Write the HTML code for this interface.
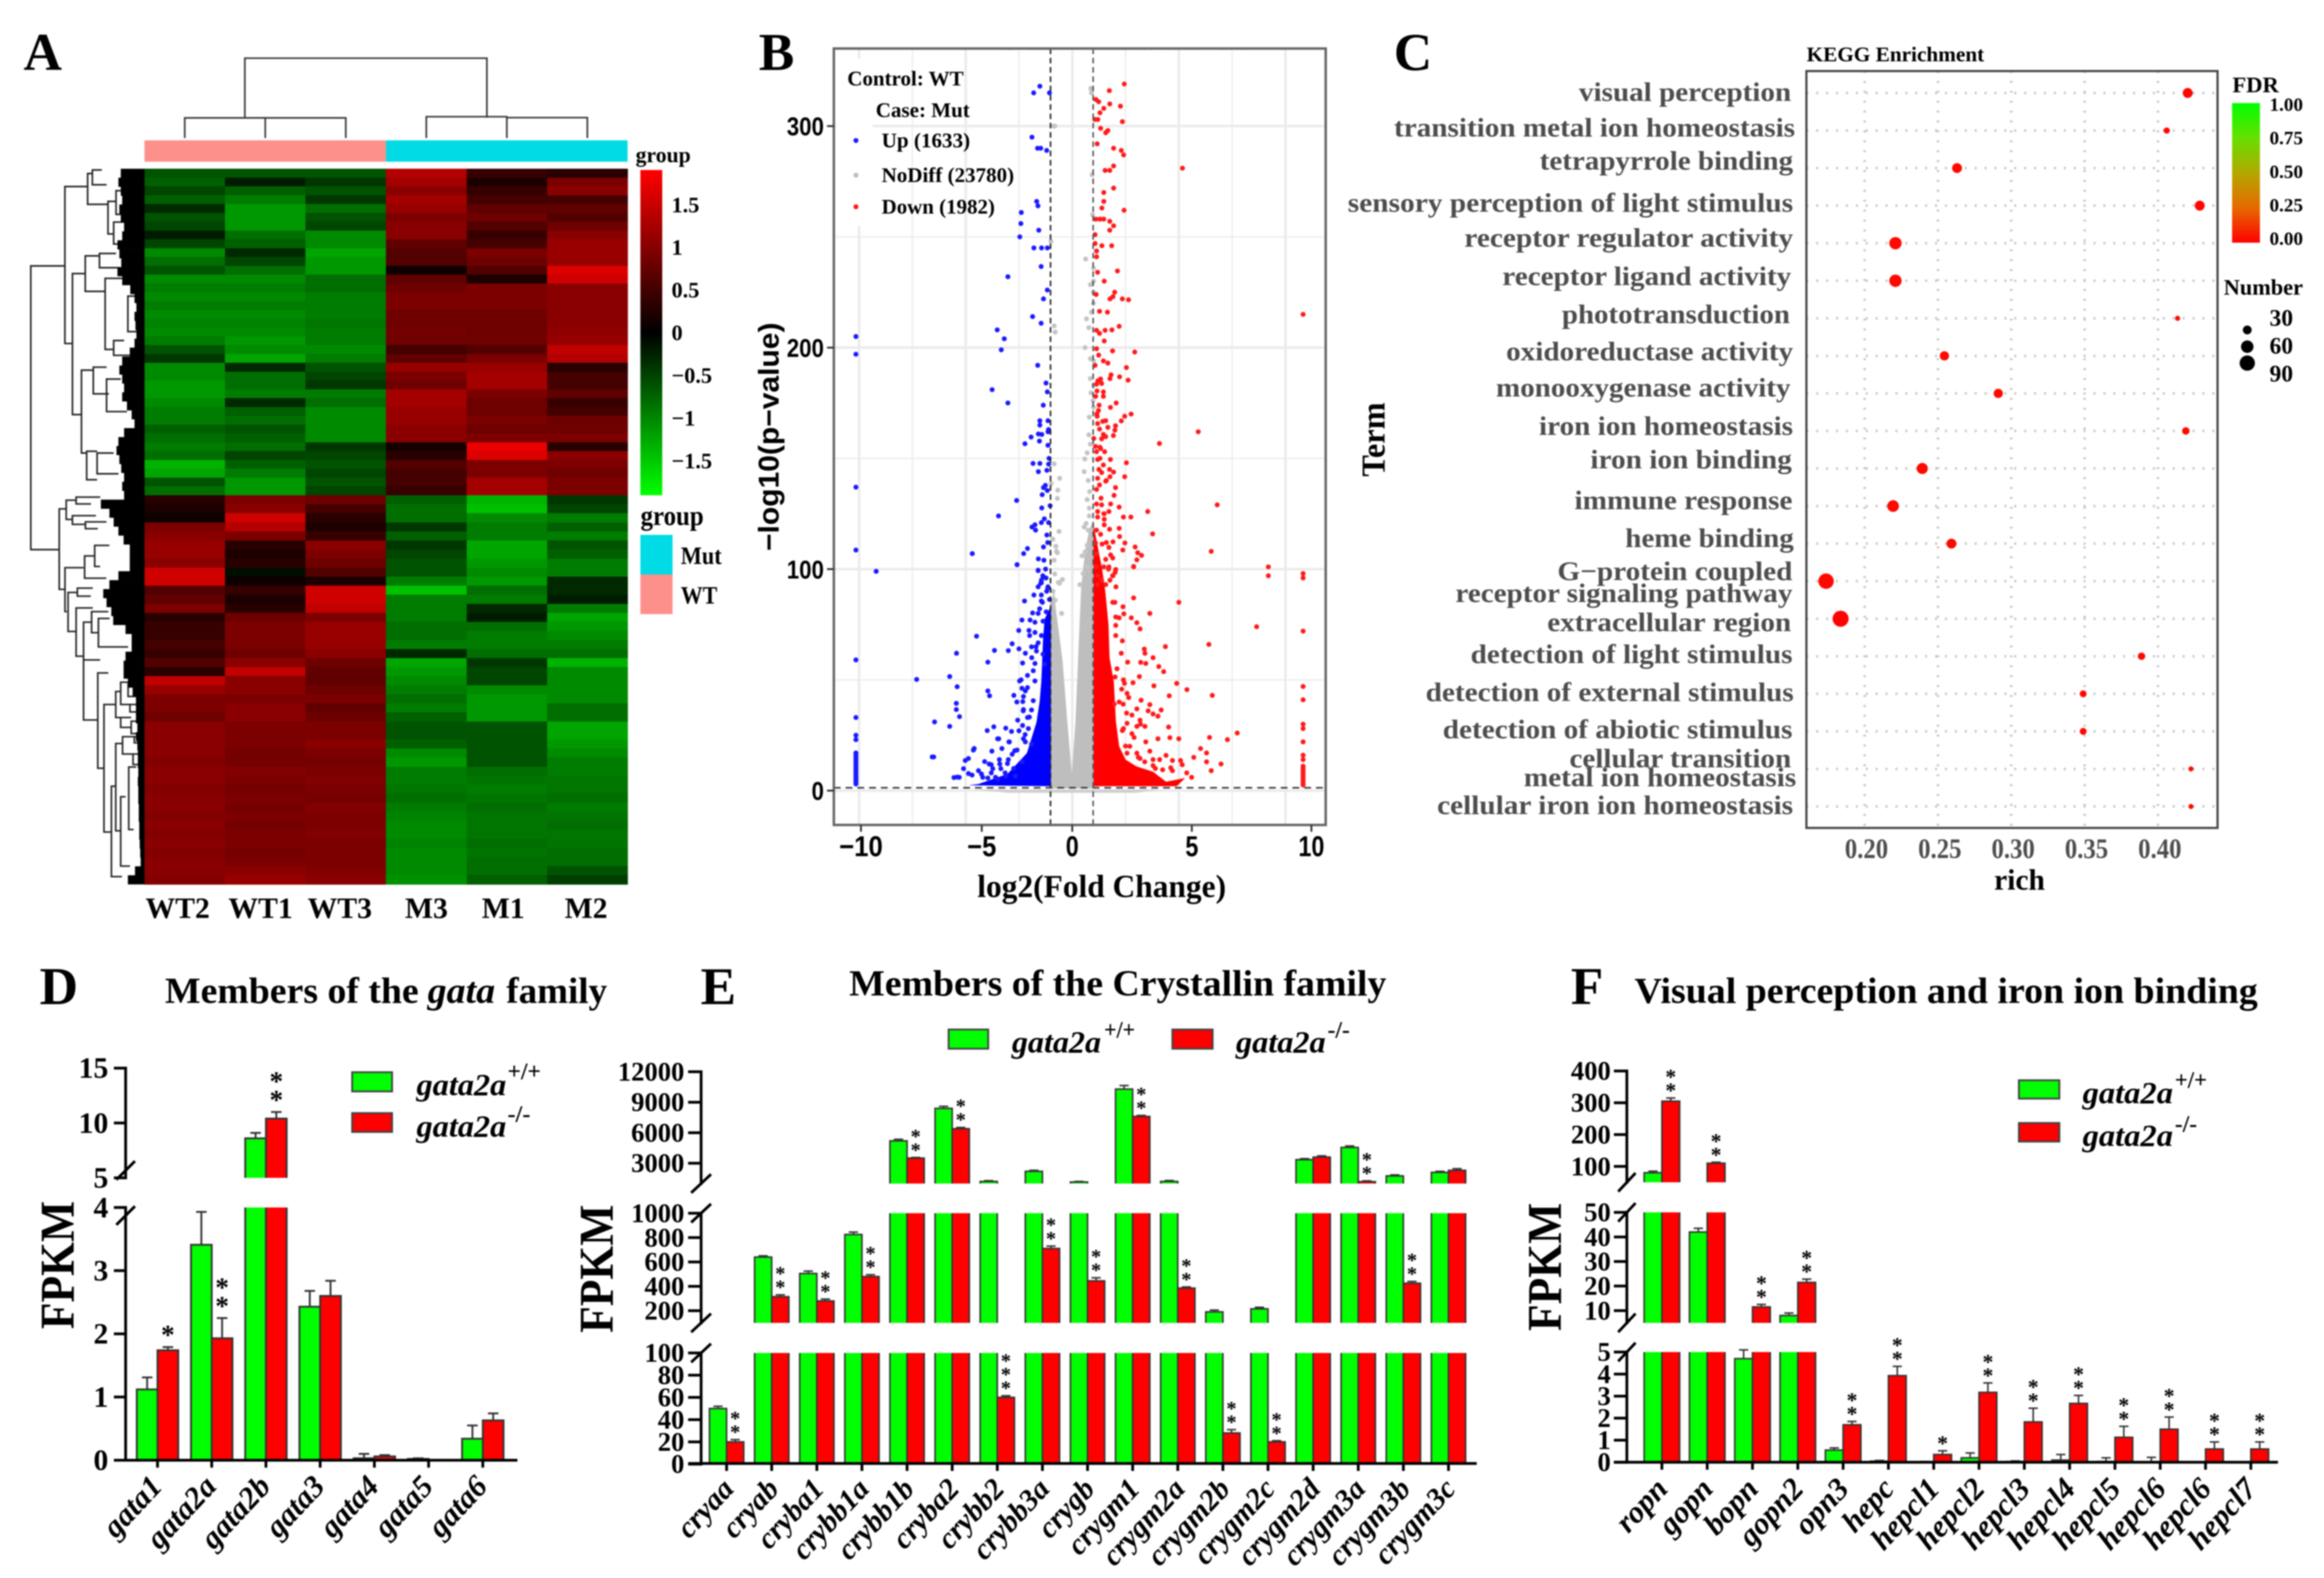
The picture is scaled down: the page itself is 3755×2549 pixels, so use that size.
<!DOCTYPE html>
<html lang="en">
<head>
<meta charset="utf-8">
<title>Transcriptome analysis of gata2a mutants</title>
<style>
html,body{margin:0;padding:0;background:#fff;}
#figure{display:block;filter:blur(1.1px);}
text{font-family:"Liberation Serif",serif;font-weight:bold;fill:#000;}
.sans{font-family:"Liberation Sans",sans-serif;}
.gray{fill:#4d4d4d;}
.it{font-style:italic;}
</style>
</head>
<body>
<svg id="figure" xmlns="http://www.w3.org/2000/svg" width="3755" height="2549" viewBox="0 0 3755 2549">
<rect x="0" y="0" width="3755" height="2549" fill="#fff"/>

<text x="38" y="113" font-size="86">A</text>
<text x="1226" y="113" font-size="86">B</text>
<text x="2252" y="113" font-size="86">C</text>
<text x="64" y="1622" font-size="86">D</text>
<text x="1132" y="1622" font-size="86">E</text>
<text x="2538" y="1622" font-size="86">F</text>

<g id="panelA">
  <rect x="233.4" y="226.7" width="390.3" height="34.5" fill="#fd908a"/>
  <rect x="623.7" y="226.7" width="390.3" height="34.5" fill="#00dbe5"/>
  <text x="1027" y="262" font-size="35" textLength="89" lengthAdjust="spacingAndGlyphs" fill="#333">group</text>
  <text x="1035" y="848" font-size="44" textLength="102" lengthAdjust="spacingAndGlyphs">group</text>
  <rect x="1034.7" y="864" width="52" height="64" fill="#00dbe5"/>
  <rect x="1034.7" y="928" width="52" height="64" fill="#fd908a"/>
  <text x="1100" y="911" font-size="40" textLength="66" lengthAdjust="spacingAndGlyphs" fill="#222">Mut</text>
  <text x="1100" y="975" font-size="40" textLength="59" lengthAdjust="spacingAndGlyphs" fill="#222">WT</text>
</g>

<g id="panelB">
  <text x="1579" y="1449" font-size="52" textLength="402" lengthAdjust="spacingAndGlyphs">log2(Fold Change)</text>
  <text class="sans" transform="translate(1258,890) rotate(-90)" font-size="46" textLength="369" lengthAdjust="spacingAndGlyphs">−log10(p−value)</text>
</g>

<g id="panelC">
  <text x="2919" y="99" font-size="34" textLength="287" lengthAdjust="spacingAndGlyphs" fill="#222">KEGG Enrichment</text>
  <text class="gray" x="2551.2" y="163" font-size="43" textLength="342.9" lengthAdjust="spacingAndGlyphs">visual perception</text>
  <text class="gray" x="2252.4" y="220.6" font-size="43" textLength="648" lengthAdjust="spacingAndGlyphs">transition metal ion homeostasis</text>
  <text class="gray" x="2487.8" y="274" font-size="43" textLength="409.4" lengthAdjust="spacingAndGlyphs">tetrapyrrole binding</text>
  <text class="gray" x="2177.6" y="342" font-size="43" textLength="719.6" lengthAdjust="spacingAndGlyphs">sensory perception of light stimulus</text>
  <text class="gray" x="2366" y="398.5" font-size="43" textLength="531.2" lengthAdjust="spacingAndGlyphs">receptor regulator activity</text>
  <text class="gray" x="2427.4" y="460.7" font-size="43" textLength="466.7" lengthAdjust="spacingAndGlyphs">receptor ligand activity</text>
  <text class="gray" x="2523.6" y="522" font-size="43" textLength="368.5" lengthAdjust="spacingAndGlyphs">phototransduction</text>
  <text class="gray" x="2433.5" y="582" font-size="43" textLength="463.7" lengthAdjust="spacingAndGlyphs">oxidoreductase activity</text>
  <text class="gray" x="2417.1" y="640.6" font-size="43" textLength="475.9" lengthAdjust="spacingAndGlyphs">monooxygenase activity</text>
  <text class="gray" x="2486.7" y="702.7" font-size="43" textLength="410.4" lengthAdjust="spacingAndGlyphs">iron ion homeostasis</text>
  <text class="gray" x="2569.7" y="756.3" font-size="43" textLength="325.5" lengthAdjust="spacingAndGlyphs">iron ion binding</text>
  <text class="gray" x="2544" y="822.3" font-size="43" textLength="352.1" lengthAdjust="spacingAndGlyphs">immune response</text>
  <text class="gray" x="2626" y="883.6" font-size="43" textLength="272.3" lengthAdjust="spacingAndGlyphs">heme binding</text>
  <text class="gray" x="2516.4" y="937" font-size="43" textLength="379.7" lengthAdjust="spacingAndGlyphs">G−protein coupled</text>
  <text class="gray" x="2351.6" y="972.5" font-size="43" textLength="544.5" lengthAdjust="spacingAndGlyphs">receptor signaling pathway</text>
  <text class="gray" x="2500" y="1019.4" font-size="43" textLength="394" lengthAdjust="spacingAndGlyphs">extracellular region</text>
  <text class="gray" x="2376.2" y="1071" font-size="43" textLength="520" lengthAdjust="spacingAndGlyphs">detection of light stimulus</text>
  <text class="gray" x="2303.5" y="1132.3" font-size="43" textLength="594.7" lengthAdjust="spacingAndGlyphs">detection of external stimulus</text>
  <text class="gray" x="2331.2" y="1192.6" font-size="43" textLength="565" lengthAdjust="spacingAndGlyphs">detection of abiotic stimulus</text>
  <text class="gray" x="2535.9" y="1239.4" font-size="43" textLength="358.2" lengthAdjust="spacingAndGlyphs">cellular transition</text>
  <text class="gray" x="2462.2" y="1270" font-size="43" textLength="440" lengthAdjust="spacingAndGlyphs">metal ion homeostasis</text>
  <text class="gray" x="2322" y="1315" font-size="43" textLength="575.2" lengthAdjust="spacingAndGlyphs">cellular iron ion homeostasis</text>
  <text transform="translate(2237,770) rotate(-90)" font-size="54" textLength="120" lengthAdjust="spacingAndGlyphs">Term</text>
  <text x="3222" y="1437" font-size="48" textLength="82" lengthAdjust="spacingAndGlyphs">rich</text>
  <text x="3607" y="149" font-size="36" textLength="75" lengthAdjust="spacingAndGlyphs" fill="#222">FDR</text>
  <text x="3593" y="476" font-size="36" textLength="128" lengthAdjust="spacingAndGlyphs" fill="#222">Number</text>
</g>

<g id="panelD">
  <text x="266.5" y="1620" font-size="59" textLength="410" lengthAdjust="spacingAndGlyphs">Members of the</text>
  <text class="it" x="691" y="1620" font-size="59" textLength="109" lengthAdjust="spacingAndGlyphs">gata</text>
  <text x="818" y="1620" font-size="59" textLength="163" lengthAdjust="spacingAndGlyphs">family</text>
  <text transform="translate(119,2147) rotate(-90)" font-size="78" textLength="207" lengthAdjust="spacingAndGlyphs">FPKM</text>
  <rect x="569" y="1732" width="64.5" height="31" fill="#00ff00" stroke="#444" stroke-width="3"/>
  <rect x="569" y="1798" width="64.5" height="30.5" fill="#ff0000" stroke="#444" stroke-width="3"/>
  <text class="it" x="673" y="1769" font-size="50" textLength="145" lengthAdjust="spacingAndGlyphs">gata2a</text>
  <text x="820" y="1743" font-size="38" textLength="54" lengthAdjust="spacingAndGlyphs">+/+</text>
  <text class="it" x="673" y="1836" font-size="50" textLength="145" lengthAdjust="spacingAndGlyphs">gata2a</text>
  <text x="820" y="1812" font-size="38" textLength="37" lengthAdjust="spacingAndGlyphs">-/-</text>
</g>

<g id="panelE">
  <text x="1372" y="1608" font-size="59" textLength="868" lengthAdjust="spacingAndGlyphs">Members of the Crystallin family</text>
  <text transform="translate(990,2153) rotate(-90)" font-size="78" textLength="207" lengthAdjust="spacingAndGlyphs">FPKM</text>
  <rect x="1532.7" y="1663" width="64" height="31" fill="#00ff00" stroke="#444" stroke-width="3"/>
  <rect x="1894.3" y="1663" width="65" height="31" fill="#ff0000" stroke="#444" stroke-width="3"/>
  <text class="it" x="1635" y="1700" font-size="50" textLength="144" lengthAdjust="spacingAndGlyphs">gata2a</text>
  <text x="1784" y="1676" font-size="38" textLength="50" lengthAdjust="spacingAndGlyphs">+/+</text>
  <text class="it" x="1997" y="1700" font-size="50" textLength="145" lengthAdjust="spacingAndGlyphs">gata2a</text>
  <text x="2145" y="1676" font-size="38" textLength="36" lengthAdjust="spacingAndGlyphs">-/-</text>
</g>

<g id="panelF">
  <text x="2641" y="1620" font-size="59" textLength="1007" lengthAdjust="spacingAndGlyphs">Visual perception and iron ion binding</text>
  <text transform="translate(2522,2150) rotate(-90)" font-size="78" textLength="207" lengthAdjust="spacingAndGlyphs">FPKM</text>
  <rect x="3262" y="1745" width="65.4" height="29.6" fill="#00ff00" stroke="#444" stroke-width="3"/>
  <rect x="3262" y="1814" width="65.4" height="30" fill="#ff0000" stroke="#444" stroke-width="3"/>
  <text class="it" x="3365" y="1782" font-size="50" textLength="146" lengthAdjust="spacingAndGlyphs">gata2a</text>
  <text x="3514" y="1757" font-size="38" textLength="52" lengthAdjust="spacingAndGlyphs">+/+</text>
  <text class="it" x="3365" y="1851" font-size="50" textLength="146" lengthAdjust="spacingAndGlyphs">gata2a</text>
  <text x="3514" y="1828" font-size="38" textLength="36" lengthAdjust="spacingAndGlyphs">-/-</text>
</g>
</svg>

<script>
/* ---------- PANEL A DATA ---------- */
const heatSamples = ['WT2','WT1','WT3','M3','M1','M2'];
const heatUpperRows = [
[-.6,-.6,-.6,1.3,.4,.3],[-.7,-.2,-.4,1.2,.2,.9],[-.5,-.7,-.6,1.0,.4,1.0],[-.7,-.9,-.4,1.2,.5,.5],
[-.3,-1.1,-.8,1.1,.7,.7],[-.6,-1.1,-.6,.9,.8,.6],[-.5,-1.1,-.5,1.0,.6,.8],[-.2,-.8,-1.0,1.0,.4,1.0],
[-.5,-.7,-1.0,.7,.5,1.1],[-1.0,-.3,-1.2,.6,.9,1.1],[-.8,-.5,-1.1,.6,.8,1.1],[-.6,-.8,-1.1,.1,.6,1.6],
[-1.0,-1.0,-.8,.7,.2,1.5],[-.9,-.9,-.8,.8,.9,1.0],[-1.0,-1.0,-.9,.9,.9,1.0],[-.9,-.9,-.9,.9,.9,1.0],
[-1.0,-1.0,-.9,.8,.8,1.0],[-.95,-.95,-.85,.8,.8,1.0],[-1.0,-1.0,-.9,.85,.8,1.05],[-.9,-1.1,-.9,.8,.8,1.1],
[-.6,-1.0,-1.0,.5,.6,1.4],[-.4,-1.2,-.9,.7,.9,1.3],[-1.0,-.3,-.6,1.1,1.1,.3],[-1.0,-.8,-.5,.9,1.2,.5],
[-1.1,-.8,-.4,.8,1.2,.5],[-1.1,-.9,-.9,1.2,.9,.7],[-1.0,-.3,-.8,1.2,.8,.4],[-.9,-.7,-1.0,1.1,.8,.5],
[-.9,-.8,-1.0,1.1,.9,.8],[-.7,-.6,-1.0,1.0,.8,.8],[-.8,-.7,-1.0,1.0,.9,.9],[-.9,-.8,-.4,.15,1.7,.3],
[-.8,-.5,-.5,.3,1.6,1.0],[-1.3,-.7,-.6,.6,.9,.9],[-1.2,-.9,-.5,.5,.9,.8],[-.6,-1.1,-.6,.5,1.2,.9],[-.8,-1.1,-.5,.4,1.2,.9]
];
const heatLowerRows = [
[.3,.9,.8,-.7,-1.3,-.4],[.2,1.0,.5,-.8,-1.4,-.5],[.1,1.5,.3,-.8,-1.0,-.9],[.9,1.3,.2,-.4,-.9,-.7],
[1.0,.9,.4,-.7,-.9,-.9],[1.1,.3,1.0,-.4,-1.2,-.6],[1.1,.2,.9,-.5,-1.2,-.7],[1.0,.3,.8,-.6,-1.1,-.9],
[1.5,-.1,.6,-.6,-1.0,-.9],[1.5,.1,.2,-.9,-1.1,-.3],[.6,.4,1.5,-1.4,-.8,-.3],[.7,.2,1.5,-.9,-.9,-.2],
[.9,.3,1.4,-.9,-.3,-.9],[.3,.8,.9,-.9,-.2,-1.2],[.4,.9,1.1,-.8,-.8,-1.1],[.4,.9,1.1,-.8,-.9,-1.0],
[.5,.9,1.1,-.9,-.9,-.9],[.4,.8,1.0,-.3,-.8,-.8],[.6,1.0,.8,-1.2,-.4,-1.3],[.3,1.4,.7,-1.1,-.5,-1.0],
[1.4,1.0,.7,-1.0,-.5,-1.0],[1.1,1.0,.8,-.9,-1.0,-1.0],[.9,.9,.9,-.8,-1.1,-1.0],[.9,1.0,.7,-.9,-1.1,-.8],
[.8,1.0,.8,-.7,-1.1,-.8],[1.0,.9,.9,-.6,-.6,-1.2],[1.0,.9,.9,-.6,-.6,-1.2],[1.0,.9,1.0,-.7,-.6,-1.1],
[1.0,.85,.9,-1.0,-.6,-1.0],[.95,.85,.85,-1.1,-.6,-.9],[1.0,.95,.9,-.9,-.8,-.9],[1.0,.9,.95,-.9,-.85,-.85],
[.95,.85,.9,-.85,-.9,-.85],[1.0,.9,.85,-.8,-.85,-.8],[1.0,.85,.95,-.9,-.8,-.9],[.95,.9,.9,-.95,-.85,-.85],
[1.0,.85,.9,-1.0,-.85,-.8],[.95,.9,.95,-1.0,-.85,-.85],[1.0,.9,.9,-.95,-.8,-.85],[.95,.85,.9,-1.0,-.85,-.8],
[1.0,.9,.9,-1.0,-.8,-.8],[1.0,1.0,.95,-1.0,-.8,-.6],[.95,1.1,1.0,-1.05,-.7,-.45]
];
const colorTicks = [1.5,1,0.5,0,-0.5,-1,-1.5];
const leafEdgeZoom = [255,250,255,258,252,255,262,258,248,252,256,248,258,275,284,288,284,286,288,284,274,258,252,258,262,258,268,278,284,262,250,246,252,256,262,258,262,
213,231,240,250,261,274,274,274,250,231,218,225,235,239,265,278,278,265,261,261,270,280,287,287,287,290,287,290,291,291,292,291,292,292,293,293,294,294,295,296,297,285,270];
const rowDendroBrackets = [
[65,449,928,137,125],[137,315,580,185,153],[185,293,345,195,228],[195,287,312,215,225],[228,340,395,245,240],
[245,322,362,262,270],[240,375,412,262,275],[153,462,700,180,172],[180,432,492,210,222],[210,428,452,245,252],
[222,470,590,270,240],[270,500,560,285,290],[240,575,600,262,280],[172,625,765,197,183],[197,620,665,225,230],
[225,640,695,255,268],[183,762,810,205,205],[205,765,800,240,250]
];
const rowDendroLower = [
[95.7,822,952,107,105],[107,808,839,123,117],[123,803,814,162,147],[117,833,847,155,138],[138,843,854,172,158],
[105,917,988,135,108],[136.7,898,934,153,171.7],[153,881,915,176.7,161.7],[110,957,1020,125,123],[125,950,963,150,146.7],
[123,982,1060,150,135],[135,1005,1163,148,158],[148,988,1022,175,159],[159,999,1045,177,207],[135,1066,1066,161.7,161.7],
[158,1087,1241,175,168],[168,1138,1344,187,180],[187,1117,1159,195,195],[195,1102,1138,207,210],[195,1159,1175,212,212],
[180,1270,1416,187,197],[187,1201,1342,198,195],[195,1287,1399,203,210],[198,1190,1218,217,215],[208,1239,1340,220,216],
[207,1105,1125,217,220],[210,1138,1150,220,220],[212,1165,1185,222,222],[217,1190,1200,224,224],[215,1218,1235,224,224]
];

/* ---------- PANEL B DATA (log2FC, -log10 p) ---------- */
const upPoints = [[-1.52,318],[-1.81,315],[-1.07,315],[-1.89,295],[-1.63,290],[-1.48,290],[-1.2,289],[-1.67,266],[-1.61,264],[-2.39,261],[-2.41,256],[-2.46,250],[-1.57,253],[-1.8,245],[-1.44,245],[-1.17,245],[-1.46,236.6],[-3.02,232],[-1.17,226],[-1.35,222],[-1.86,214],[-1.46,211],[-3.52,208],[-3.19,204],[-3.33,199],[-1.62,192],[-1.23,184],[-1.17,180],[-3.76,181],[-3.02,175],[-1.36,174],[-1.52,167],[-1.14,167],[-1.11,163],[-1.52,165],[-1.14,162],[-1.59,161],[-1.43,160.8],[-1.93,159.6],[-1.54,157.8],[-2.22,156.6],[-1.14,155.9],[-1.09,150],[-1.84,147.7],[-1.52,147.7],[-1.11,147.4],[-1.59,144],[-1.19,144.6],[-1.26,137.8],[-1.35,136.8],[-1.17,135.5],[-1.41,133.6],[-2.61,131],[-1.04,128.6],[-1.43,127.6],[-3.46,124],[-1.31,122.7],[-1.45,121],[-1.11,121],[-1.75,120],[-1.89,119],[-1.72,117.6],[-1.19,115.4],[-4.69,107],[-2.1,109.3],[-2.28,107],[-1.59,104.6],[-1.33,104],[-2.59,102],[-1.6,99.5],[-1.38,97],[-1.23,96],[-1.48,93.6],[-1.14,92],
[-9.2,99],[-2.59,102],[-1.6,99.3],[-1.37,96.5],[-1.45,93.8],[-1.15,91.4],[-1.8,88.3],[-1.45,88.3],[-2.24,85.6],[-1.45,85.6],[-1.07,86.3],[-1.53,82.1],[-1.86,80.2],[-1.22,80.7],[-2.36,77],[-1.98,77],[-1.37,76.5],[-2.51,72.3],[-2.03,72.3],[-1.75,71.4],[-1.45,70],[-4.49,69.7],[-2.82,66.3],[-1.6,66.7],[-1.91,64.9],[-3.65,63.3],[-3,63.2],[-1.68,63],[-5.43,62],[-1.37,61.6],[-3.96,58],[-2.33,57.6],[-1.75,57.4],[-1.83,54.1],[-1.3,57],[-7.3,50.2],[-5.75,51.5],[-2.47,49.5],[-1.75,49.5],[-5.4,46.9],[-2.36,46.2],[-2.1,46.5],[-3.96,45],[-3.88,42.8],[-2.74,43],[-2.29,42.5],[-2.32,40.2],[-1.83,40.6],[-5.44,39.4],[-5.44,36.6],[-5.29,33.4],[-2.29,36.6],[-1.91,36.4],[-2.01,33.2],[-2.56,31.8],[-6.46,31],[-5.75,29],[-2.33,29.4],[-3.68,28.8],[-3.12,28.2],[-3.99,27.1],[-2.85,26.7],[-2.06,28],[-2.21,25.3],[-3.5,23.4],[-3.45,23.4],[-2.97,22],[-2.29,23.4],[-1.91,21],[-4.64,18.3],[-4.6,19],[-3.77,17.8],[-2.59,18.3],[-2.82,16.4],[-6.57,15.2],[-6.5,15.2],[-4.87,14.5],[-5.02,13.6],[-4.11,13.1],[-3.42,14],[-3.8,11.7],[-3.04,12.2],[-5.1,9.9],[-3.73,9.9],[-3.35,9.9],[-4.87,7.7],[-4.26,7.5],[-5.4,6.1],[-5.55,5.9],[-5.3,6],[-2.67,6.6],[-3.96,5.7],[-3.5,5.2],[-3.12,6.6],
[-2.6,40],[-2.3,36],[-2.1,33],[-2.5,27],[-2.2,22],[-2.7,18],[-3.0,14],[-3.4,12],[-3.8,8],[-4.2,6],[-3.6,6],[-2.4,50],[-2.1,52],[-1.9,60],[-1.7,65],[-2.0,70],[-1.6,80],[-1.4,85],[-1.2,90],[-2.2,45],[-2.5,64],[-2.2,62],[-1.25,100],[-1.45,95],[-1.35,110],[-1.15,112],[-1.6,92],[-1.75,76],[-2.35,13],[-2.75,10],[-3.15,8],[-3.9,12],[-4.4,9],[-4.7,7],[-3.3,19],[-2.95,22],
[-2.0,335.5],[-1.8,335.5],[-1.6,335.5],[-1.4,335.5],[-1.2,335.5],[-1.05,335.5],[-3.0,335.5],[-2.9,335.5]];
const upEdgeColumnP = [205,197,137,108.6,59,33,25,23,17,16,15,14,13,12,11,10,9,8,7,6.5,5.5,5,4,3];
const downPoints = [[2.44,319],[1.74,316],[1.11,312],[1.24,311],[1.76,310],[2.26,309],[1.48,308],[1.3,306],[1.06,303],[1.2,303],[2.35,302],[1.67,298],[1.57,297],[1.33,299],[1.17,292],[1.94,290],[2.3,289],[2.41,287],[1.94,282],[1.76,280],[1.54,280],[5.17,281],[1.94,272],[1.48,270],[1.48,266],[1.39,263],[2.43,262],[1.11,258],[1.3,258],[1.48,258],[1.76,257],[1.94,255],[1.76,253],[1.07,251],[1.07,247],[1.39,246],[1.85,246],[1.14,243.6],[1.14,241],[1.19,234],[2.12,234.6],[1.5,230],[1.12,224],[1.99,225],[1.91,223],[1.77,222],[2.35,222],[2.64,221.6],[1.28,216.4],[1.65,216],[10.83,215],[2.2,209.6],[1.86,208],[1.54,207.8],[1.14,207.8],[1.28,206.4],[1.5,203],[1.14,199.5],[1.89,198.5],[2.93,198],[1.24,196.6],[1.46,194],[1.67,193],[1.07,192],[2.54,191],[1.82,187.7],[2.22,186.8],[2.62,185.3],[1.77,186],[1.33,185.8],[1.38,183.8],[1.14,183.5],[1.16,180.4],[1.46,180],[1.46,178],[1.26,174],[2.06,175],[1.79,173],[1.23,171.6],[2.76,170],[2.46,169],[2.3,166.9],[1.17,169],[1.57,167],[1.43,166.7],[1.19,165.7],[1.67,164],[2.03,164.7],[2.0,162.7],[1.28,163.2],[1.46,160.8],[1.57,159.8],[1.93,160.3],[1.01,159],[5.91,162],[4.09,156.7],[1.38,158.8],[1.09,155.4],[1.33,154.4],[1.52,153],[1.14,153],[1.79,149.5],[1.19,149.5],[2.54,148],[1.46,147],[1.75,145],[1.38,143.6],[1.94,143.8],[2.46,141.7],[1.77,141.7],[1.19,141],[1.57,139.7],[1.28,138],[2.03,136.8],[1.14,136],[1.96,133.3],[6.8,129],[1.14,129.4],[1.38,129],[1.8,129.4],[2.2,128],[3.54,126],[1.19,126],[1.48,125],[1.72,126],[2.4,123.5],[2.75,123.5],[1.19,123.5],[1.5,122.5],[1.5,120],[2.2,118.4],[1.14,117.6],[1.33,115.7],[3.77,115.9],[2.22,114.7],[2.47,111.8],[1.91,112.3],[1.09,111.8],[1.4,111.3],[1.72,109.8],[2.95,110],[6.52,108],[2.37,108.6],[1.14,106.9],[3.07,107.4],[3.25,106.2],[1.8,106.4],[1.57,104.4],[3.03,104.2],[2.88,101.2],[1.14,101],[1.48,101],[1.72,101],[2.01,98.5],[1.19,97],[1.77,95],[1.38,95],[1.91,97],[1.19,93],[1.57,93],
[9.2,101],[9.2,97],[10.83,98],[10.83,96],[2.04,99.8],[1.89,97],[2.88,101],[2.88,87],[5,85],[2.38,83],[3.64,80],[2.42,79.8],[2.77,78],[3.03,75.8],[3.18,73],[2.04,78.4],[2.04,74.6],[2.04,70],[2.35,67.6],[8.65,74],[10.83,72],[6.41,66],[4.37,65],[3.38,63.9],[3.41,62],[3.79,60],[3.21,57.9],[3.45,57.4],[4.06,56],[4.29,53.7],[3.15,51.5],[2.01,51.3],[2.45,48.4],[2.85,48.7],[3.83,47.3],[4.9,48.4],[5.38,45.6],[6.57,43],[4.55,42.8],[2.57,43.9],[2.32,45.8],[3.23,40.8],[3.64,38.8],[1.97,39],[2.39,39],[3.03,36.9],[3.56,36],[4.17,36.4],[3.79,34.6],[4.02,33.6],[2.8,34.1],[3.18,31.8],[2.57,30.4],[3.03,29],[3.41,29],[4.52,28.7],[2.35,27.1],[2.8,25.7],[7.74,26],[7.28,23],[6.44,24],[4.02,23.4],[4.58,23.9],[5,23.4],[2.5,20.1],[3.64,17.8],[3.03,16.9],[2.57,16.9],[4.4,15.9],[3.79,14],[3.18,14.5],[4.7,13.6],[5.08,13.6],[3.79,11.3],[4.62,10.3],[4.24,9.4],[5.16,11.7],[6.02,19],[6.3,17],[6.3,13],[6.52,9],[6.98,12],[5.7,15],[5.37,8],[5.6,6],
[2.2,40],[2.4,28],[2.7,20],[3.1,15],[3.4,13],[2.9,24],[2.1,55],[2.3,62],[2.0,85],[2.2,78],[1.9,85],[2.05,92],[1.7,100],[1.9,105],[1.6,112],[1.75,118],[1.5,125],[1.35,132],[1.6,140],[1.25,145],[2.55,35],[2.65,42],[3.2,30],[3.45,22],[3.9,10],[4.1,14],[4.7,9],[2.4,50],[2.6,58],[1.3,150],[1.15,170],[1.2,185],[1.3,155],[1.1,178],
[1.0,335.5],[1.2,335.5],[1.4,335.5],[1.6,335.5],[1.8,335.5],[2.0,335.5],[2.2,335.5],[2.4,335.5],[2.6,335.5],[2.8,335.5],[3.0,335.5],[3.2,335.5],[3.4,335.5],[3.7,335.5],[4.5,335.5],[4.8,335.5],[5.6,335.5],[5.8,335.5],[7.1,335.5],[8,335.5]];
const downEdgeColumnP = [47,41,30,28,22,16,14,11,10,9,8,7,6,5,4,3,2.5];
const noDiffPoints = [[.87,317],[.9,315],[-.87,300],[-.82,300],[.93,278],[.95,260],[-1,248],[.63,240],[1,235.8],[.85,228.4],[1,230],[1,225],[1,220],[.9,216],[.67,213],[-.85,209.8],[-.8,207],[.78,209],[.6,200],[.85,195],[1,194],[.85,186],[1,183],[.88,179.6],[.97,176],[1,173],[.8,168.6],[.78,160.6],[.85,156.4],[.7,152.5],[.59,149.7],[-.85,147.5],[.56,144],[-.59,141],[.75,140],[-.99,138.7],[-.68,135.6],[-.7,131.9],[.7,131.4],[.82,135],[.8,127.5],[.8,124],[.65,120.6],[.56,119],[.75,117.6],[-.62,117],[-.91,113.5],[-.77,110.3],[.7,110.8],[-.7,107.4],[.6,107.8],[.46,106],[-.85,104],[.7,101],[-.82,97.8],[.51,98],[-.46,95.3],[.36,93],[-.6,93.6],[-.74,108],[-.65,94],[-.9,90],[-.8,86],[-.5,80]];
const upDensityEnvelope = [[-1.0,2],[-4.87,2.4],[-4.4,3],[-3.04,7.5],[-2.13,16.9],[-1.68,30.8],[-1.53,40.2],[-1.45,49.5],[-1.37,68.1],[-1.3,77.4],[-1.07,82],[-1.0,85]];
const downDensityEnvelope = [[1,2],[4.9,2],[5.3,5.7],[4.4,4],[3.79,8.5],[3,11],[2.5,14],[2.2,20],[2.05,31],[1.95,49],[1.75,60],[1.7,75],[1.55,90],[1.4,100],[1.2,110],[1,120]];
const noDiffEnvelope = [[-1,1],[-1,85],[-.85,90],[-.77,82],[-.46,59],[-.23,31],[-.02,7.6],[.15,31],[.31,68],[.42,92],[.6,108],[.8,118],[1,122],[1,1]];
const noDiffBaseEnvelope = [[-4.7,0.5],[4.2,0.5],[3,-1],[-3,-1]];
const volcanoYTicks = [0,100,200,300];
const volcanoXTicks = [-10,-5,0,5,10];
const volcanoLegendEntries = ['Up (1633)','NoDiff (23780)','Down (1982)'];

/* ---------- PANEL C DATA ---------- */
const keggTerms = ['visual perception','transition metal ion homeostasis','tetrapyrrole binding','sensory perception of light stimulus','receptor regulator activity','receptor ligand activity','phototransduction','oxidoreductase activity','monooxygenase activity','iron ion homeostasis','iron ion binding','immune response','heme binding','G-protein coupled receptor signaling pathway','extracellular region','detection of light stimulus','detection of external stimulus','detection of abiotic stimulus','cellular transition metal ion homeostasis','cellular iron ion homeostasis'];
const keggRich = [.4203,.406,.263,.4285,.221,.221,.4134,.2544,.2911,.419,.2393,.2194,.2592,.1737,.1836,.3888,.349,.349,.4225,.4225];
const keggNumber = [38,15,38,38,59,59,10,33,33,21,48,53,38,92,100,21,18,18,10,10];
const keggFdr = [.02,.02,.03,.02,.03,.03,.04,.03,.03,.03,.03,.03,.03,.03,.01,.03,.03,.03,.05,.05];
const keggXTicks = [.20,.25,.30,.35,.40];
const fdrTicks = [1,.75,.5,.25,0];
const numberLegend = [30,60,90];

/* ---------- BAR PANEL DATA ---------- */
const gataGenes = ['gata1','gata2a','gata2b','gata3','gata4','gata5','gata6'];
const gataWild = [1.12,3.41,8.6,2.43,.03,.02,.34];
const gataWildErr = [1.31,3.93,9.1,2.68,.1,.03,.55];
const gataMut = [1.74,1.93,10.4,2.6,.06,0,.63];
const gataMutErr = [1.79,2.25,11.0,2.84,.08,0,.74];
const gataStars = [1,2,2,0,0,0,0];
const gataTicks = [0,1,2,3,4,5,10,15];

const cryGenes = ['cryaa','cryab','cryba1','crybb1a','crybb1b','cryba2','crybb2','crybb3a','crygb','crygm1','crygm2a','crygm2b','crygm2c','crygm2d','crygm3a','crygm3b','crygm3c'];
const cryWild = [50,640,505,825,5200,8400,1200,2200,1150,10300,1200,190,215,3350,4550,1750,2100];
const cryWildErr = [52,650,525,845,5350,8600,1280,2300,1200,10650,1290,205,228,3450,4700,1850,2200];
const cryMut = [20,315,280,480,3500,6400,60,710,445,7600,385,28,20,3600,1180,425,2300];
const cryMutErr = [22,330,295,495,3560,6520,61.5,730,470,7700,395,31,21,3720,1260,440,2460];
const cryStars = [2,2,2,2,2,2,3,2,2,2,2,2,2,0,2,2,0];
const cryTicks = [0,20,40,60,80,100,200,400,600,800,1000,3000,6000,9000,12000];

const visGenes = ['ropn','gopn','bopn','gopn2','opn3','hepc','hepcl1','hepcl2','hepcl3','hepcl4','hepcl5','hepcl6','hepcl6','hepcl7'];
const visWild = [80,42,4.7,8,.55,.05,.02,.2,.03,.1,.03,.02,0,0];
const visWildErr = [85,43.5,5.1,9,.65,.08,.03,.42,.06,.35,.2,.22,0,0];
const visMut = [305,110,11.5,21.5,1.7,3.93,.35,3.17,1.83,2.67,1.13,1.5,.6,.6];
const visMutErr = [315,113,12.5,22.8,1.85,4.35,.52,3.6,2.45,3.03,1.63,2.05,.92,.92];
const visStars = [2,2,2,2,2,2,1,2,2,2,2,2,2,2];
const visTicks = [0,1,2,3,4,5,10,20,30,40,50,100,200,300,400];

/* ---------- HELPERS ---------- */
const NS = 'http://www.w3.org/2000/svg';
function mk(tag, geom, parent, content){
  const el = document.createElementNS(NS, tag);
  for(const k in geom){ el.setAttribute(k, geom[k]); }
  if(content !== undefined){ el.textContent = content; }
  parent.appendChild(el);
  return el;
}
const byId = id => document.getElementById(id);

/* ---------- PANEL A ---------- */
(function(){
  const g = byId('panelA');
  const hx = i => 233.4 + i * 130.1;
  const dzx = z => z / 1.3067;
  const dzy = z => z / 1.0453;
  const color = v => {
    const t = Math.min(1, Math.abs(v) / 1.85);
    const c = Math.round(255 * t);
    return v >= 0 ? `rgb(${c},0,0)` : `rgb(0,${c},0)`;
  };
  function block(rows, top, bottom, name){
    const rh = (bottom - top) / rows.length;
    rows.forEach((row, r) => row.forEach((v, c) => {
      const el = mk('rect', {x:hx(c), y:top + r*rh, width:130.6, height:rh+.6, fill:color(v), 'shape-rendering':'crispEdges'}, g);
      
      
    }));
  }
  block(heatUpperRows, 272.6, 800, 'heatmap-upper');
  block(heatLowerRows, 800, 1428.3, 'heatmap-lower');

  heatSamples.forEach((s, i) => {
    const cx = [287,421,549,689,813,947][i];
    const el = mk('text', {x:cx, y:1483, 'font-size':48, 'text-anchor':'middle'}, g, s);
    
    
  });

  /* column dendrogram */
  const colD = mk('path', {d:'M395.6 190V94H786.7V190 M298.5 223V190.4H558.7V223 M428.6 190.4V223 M688.8 223V188.5H818.9V223 M818.9 190H949V223', fill:'none', stroke:'#333', 'stroke-width':2.6}, g);
  
  

  /* row dendrogram */
  let d = '';
  rowDendroBrackets.forEach(b => {
    d += `M${dzx(b[3])} ${dzy(b[1])}H${dzx(b[0])}V${dzy(b[2])}H${dzx(b[4])}`;
  });
  rowDendroLower.forEach(b => {
    d += `M${b[3]} ${b[1]}H${b[0]}V${b[2]}H${b[4]}`;
  });
  const rowD = mk('path', {d:d, fill:'none', stroke:'#222', 'stroke-width':2.6}, g);
  
  

  const lh = (1428.3 - 272.6) / leafEdgeZoom.length;
  leafEdgeZoom.forEach((z, i) => {
    const el = mk('rect', {x:dzx(z), y:272.6 + i*lh, width:233.6 - dzx(z), height:lh + .3, fill:'#000'}, g);
    
    
  });

  /* color bar */
  const defs = mk('defs', {}, g);
  const gr = mk('linearGradient', {id:'heatGrad', x1:0, y1:0, x2:0, y2:1}, defs);
  mk('stop', {offset:'0', 'stop-color':'#ff0000'}, gr);
  mk('stop', {offset:'.5', 'stop-color':'#000'}, gr);
  mk('stop', {offset:'1', 'stop-color':'#00ff00'}, gr);
  const bar = mk('rect', {x:1034.7, y:274.6, width:35.3, height:525.4, fill:'url(#heatGrad)'}, g);
  
  
  colorTicks.forEach(v => {
    const el = mk('text', {x:1085, y:537.6 - v*137.9 + 12, 'font-size':36, fill:'#222'}, g, (v < 0 ? '−' : '') + Math.abs(v));
    
    
  });
})();

/* ---------- PANEL B ---------- */
(function(){
  const g = byId('panelB');
  const X = v => 1732.5 + 34.44 * v;
  const Y = v => 1277.1 - 3.578 * v;
  const L = 1347.3, R = 2142, T = 78.4, B = 1332.6;
  const gridG = mk('g', {stroke:'#ebebeb', fill:'none'}, g);
  
  
  [0,50,100,150,200,250,300].forEach(v => mk('line', {x1:L, x2:R, y1:Y(v), y2:Y(v), 'stroke-width': v % 100 ? 2 : 4}, gridG));
  [-10,-7.5,-5,-2.5,0,2.5,5,7.5,10].forEach(v => mk('line', {y1:T, y2:B, x1:X(v), x2:X(v), 'stroke-width': v % 5 ? 2 : 4}, gridG));
  const mask = mk('rect', {x:1350, y:95, width:60, height:270, fill:'#fff'}, g);
  
  

  const defs = mk('defs', {}, g);
  const cp = mk('clipPath', {id:'volcanoClip'}, defs);
  mk('rect', {x:L, y:T, width:R-L, height:B-T}, cp);
  const plot = mk('g', {'clip-path':'url(#volcanoClip)'}, g);
  
  

  const poly = (pts, fill, name) => {
    const el = mk('polygon', {points: pts.map(p => X(p[0]) + ',' + Y(p[1])).join(' '), fill: fill}, plot);
    
    
  };
  poly(noDiffBaseEnvelope, '#cfcfcf', 'nodiff-baseline-density');
  poly(noDiffEnvelope, '#bebebe', 'nodiff-density');
  poly(upDensityEnvelope, '#0000ff', 'up-density');
  poly(downDensityEnvelope, '#ff0000', 'down-density');

  const dots = (pts, fill, name) => pts.forEach(p => {
    const el = mk('circle', {cx:X(p[0]), cy:Y(p[1]), r:4, fill:fill}, plot);
    
    
  });
  dots(noDiffPoints, '#c4c4c4', 'nodiff-point');
  dots(upPoints, '#1a1aff', 'up-point');
  dots(downPoints, '#ff1a1a', 'down-point');
  dots(upEdgeColumnP.map(p => [-10.15, p]), '#1a1aff', 'up-point');
  dots(downEdgeColumnP.map(p => [10.83, p]), '#ff1a1a', 'down-point');

  const lines = mk('path', {d:`M${L} ${Y(1.3)}H${R}`, stroke:'#333', 'stroke-width':2.5, 'stroke-dasharray':'11 8', fill:'none'}, g);
  
  
  const vl = mk('path', {d:`M${X(-1.02)} ${T}V${B}`, stroke:'#222', 'stroke-width':2.5, 'stroke-dasharray':'9 6', fill:'none'}, g);
  
  
  const vr = mk('path', {d:`M${X(.98)} ${T}V${B}`, stroke:'#555', 'stroke-width':2.5, 'stroke-dasharray':'9 6', fill:'none'}, g);
  
  

  const frame = mk('rect', {x:L, y:T, width:R-L, height:B-T, fill:'none', stroke:'#666', 'stroke-width':4}, g);
  
  

  volcanoYTicks.forEach(v => {
    const t = mk('line', {x1:L-11, x2:L, y1:Y(v), y2:Y(v), stroke:'#333', 'stroke-width':3}, g);
    
    
    const el = mk('text', {class:'sans', x:L-16, y:Y(v)+15, 'font-size':42, 'text-anchor':'end', textLength: String(v).length * 20, lengthAdjust:'spacingAndGlyphs'}, g, v);
    
    
  });
  const xNudge = [3,26,0,21,42];
  volcanoXTicks.forEach((v, i) => {
    const px = X(v) + xNudge[i];
    const t = mk('line', {x1:px, x2:px, y1:B, y2:B+11, stroke:'#333', 'stroke-width':3}, g);
    
    
    const txt = (v < 0 ? '−' : '') + Math.abs(v);
    const el = mk('text', {class:'sans', x:px, y:1383, 'font-size':46, 'text-anchor':'middle', textLength: txt.length * (v<0?23.5:21), lengthAdjust:'spacingAndGlyphs'}, g, txt);
    
    
  });

  const lgA = mk('text', {x:1369, y:138, 'font-size':34, textLength:188, lengthAdjust:'spacingAndGlyphs', fill:'#222'}, g, 'Control: WT');
  
  
  const lgB = mk('text', {x:1415, y:189, 'font-size':34, textLength:152, lengthAdjust:'spacingAndGlyphs', fill:'#222'}, g, 'Case: Mut');
  
  
  const lgWidths = [143,214,183];
  const lgRows = [238,294,345];
  const lgColors = ['#1a1aff','#bebebe','#ff1a1a'];
  volcanoLegendEntries.forEach((s, i) => {
    const el = mk('text', {x:1424.5, y:lgRows[i], 'font-size':34, textLength:lgWidths[i], lengthAdjust:'spacingAndGlyphs', fill:'#222'}, g, s);
    
    
    const m = mk('circle', {cx:1383, cy:lgRows[i]-11, r:4, fill:lgColors[i]}, g);
    
    
  });
})();

/* ---------- PANEL C ---------- */
(function(){
  const g = byId('panelC');
  const X = r => 3012.8 + (r - .2) * 2369.5;
  const Y = i => 150.2 + i * 60.66;
  const L = 2918.7, R = 3583, T = 114.8, B = 1337.4;
  keggTerms.forEach((t, i) => {
    const el = mk('line', {x1:L, x2:R, y1:Y(i), y2:Y(i), stroke:'#c4c4c4', 'stroke-width':4, 'stroke-dasharray':'3 13'}, g);
    
    
  });
  keggXTicks.forEach(v => {
    const el = mk('line', {x1:X(v), x2:X(v), y1:T, y2:B, stroke:'#c4c4c4', 'stroke-width':4, 'stroke-dasharray':'3 13'}, g);
    
    
    const lab = mk('text', {x:X(v)+3, y:1386, 'font-size':46, 'text-anchor':'middle', class:'gray', textLength:70, lengthAdjust:'spacingAndGlyphs'}, g, v.toFixed(2));
    
    
  });
  const frame = mk('rect', {x:L, y:T, width:R-L, height:B-T, fill:'none', stroke:'#444', 'stroke-width':3.5}, g);
  
  
  const radius = n => 1.3 * Math.sqrt(n);
  keggRich.forEach((r, i) => {
    const f = keggFdr[i];
    const el = mk('circle', {cx:X(r), cy:Y(i), r:radius(keggNumber[i]), fill:`rgb(255,${Math.round(255*f)},0)`}, g);
    
    
  });
  const defs = mk('defs', {}, g);
  const gr = mk('linearGradient', {id:'fdrGrad', x1:0, y1:0, x2:0, y2:1}, defs);
  mk('stop', {offset:'0', 'stop-color':'#00ff00'}, gr);
  mk('stop', {offset:'.25', 'stop-color':'#66e000'}, gr);
  mk('stop', {offset:'.5', 'stop-color':'#b3a800'}, gr);
  mk('stop', {offset:'.75', 'stop-color':'#e66a00'}, gr);
  mk('stop', {offset:'1', 'stop-color':'#ff0000'}, gr);
  const cb = mk('rect', {x:3606.5, y:166.5, width:45, height:225.5, fill:'url(#fdrGrad)'}, g);
  
  
  fdrTicks.forEach(v => {
    const el = mk('text', {x:3667, y:385.5 - v*216.5 + 10, 'font-size':31, textLength:54, lengthAdjust:'spacingAndGlyphs', fill:'#222'}, g, v.toFixed(2));
    
    
  });
  const lgDotY = [533,560,586.5];
  const lgTextY = [526,571,616];
  numberLegend.forEach((n, i) => {
    const d = mk('circle', {cx:3631, cy:lgDotY[i], r:radius(n), fill:'#000'}, g);
    
    
    const t = mk('text', {x:3667, y:lgTextY[i], 'font-size':38, fill:'#222'}, g, n);
    
    
  });
})();

/* ---------- BAR PANELS ---------- */
function drawBars(cfg){
  const g = byId(cfg.parent);
  const center = i => cfg.start + i * cfg.step;
  const segOf = v => cfg.segs.find(s => v <= s.hi) || cfg.segs[cfg.segs.length-1];
  const y = (v, s) => s.yLo + (v - s.lo) * (s.yHi - s.yLo) / (s.hi - s.lo);
  const w = cfg.barW;

  function bar(xc, v, err, fill, name){
    if(v <= 0) return;
    cfg.segs.forEach(s => {
      if(v <= s.lo) return;
      const topV = Math.min(v, s.hi);
      const yt = y(topV, s), yb = s.yLo;
      const el = mk('rect', {x:xc - w/2, y:yt, width:w, height:yb-yt, fill:fill}, g);
      
      
      let d = `M${xc-w/2} ${yb}V${yt}`;
      if(v <= s.hi) d += `H${xc+w/2}`; else d += `M${xc+w/2} ${yt}`;
      d += `V${yb}`;
      const o = mk('path', {d:d, fill:'none', stroke:'#333', 'stroke-width':cfg.sw}, g);
      
      
    });
    if(err > v){
      const s = segOf(v);
      const y0 = y(v, s), y1 = y(err, s);
      const e = mk('path', {d:`M${xc} ${y0}V${y1}M${xc-cfg.cap/2} ${y1}H${xc+cfg.cap/2}`, fill:'none', stroke:'#333', 'stroke-width':cfg.sw}, g);
      
      
    }
  }

  cfg.genes.forEach((gene, i) => {
    const c = center(i);
    bar(c - w/2, cfg.wild[i], cfg.wildErr[i], '#00ff00', 'bar-wildtype-' + gene);
    bar(c + w/2, cfg.mut[i], cfg.mutErr[i], '#ff0000', 'bar-mutant-' + gene);
    const s = segOf(cfg.mut[i]);
    for(let k = 0; k < cfg.stars[i]; k++){
      const cy = y(Math.max(cfg.mutErr[i], cfg.mut[i]), s) - cfg.starGap - k * cfg.starStep;
      const st = mk('text', {x:c + w/2, y:cy + cfg.starSize * .47, 'font-size':cfg.starSize, 'text-anchor':'middle', fill:'#222'}, g, '*');
      
      
    }
    const tk = mk('line', {x1:c, x2:c, y1:cfg.baseY, y2:cfg.baseY + 12, stroke:'#000', 'stroke-width':cfg.axisW}, g);
    
    
    const ax = c + cfg.labelDx, ay = cfg.labelY;
    const lb = mk('text', {class:'it', x:ax, y:ay, 'font-size':cfg.labelSize, 'text-anchor':'end', transform:`rotate(-47 ${ax} ${ay})`}, g, gene);
    
    
  });

  /* axis */
  cfg.segs.forEach((s, idx) => {
    const a = mk('line', {x1:cfg.axisX, x2:cfg.axisX, y1:s.yLo, y2:s.yHi, stroke:'#000', 'stroke-width':cfg.axisW, 'stroke-linecap':'square'}, g);
    
    
    if(idx < cfg.segs.length - 1){
      const dx = cfg.slashDx, dy = cfg.slashDy;
      const b1 = mk('line', {x1:cfg.axisX-dx, x2:cfg.axisX+dx, y1:s.yHi+cfg.slashOff[0]+dy, y2:s.yHi+cfg.slashOff[0]-dy, stroke:'#000', 'stroke-width':cfg.axisW}, g);
      
      
      const nx = cfg.segs[idx+1];
      const b2 = mk('line', {x1:cfg.axisX-dx, x2:cfg.axisX+dx, y1:nx.yLo+cfg.slashOff[1]+dy, y2:nx.yLo+cfg.slashOff[1]-dy, stroke:'#000', 'stroke-width':cfg.axisW}, g);
      
      
    }
  });
  const base = mk('line', {x1:cfg.baseL, x2:cfg.baseR, y1:cfg.baseY, y2:cfg.baseY, stroke:'#000', 'stroke-width':cfg.axisW}, g);
  
  

  cfg.ticks.forEach(v => {
    const s = segOf(v);
    const py = y(v, s);
    const t = mk('line', {x1:cfg.axisX - cfg.tickLen, x2:cfg.axisX, y1:py, y2:py, stroke:'#000', 'stroke-width':cfg.axisW}, g);
    
    
    const l = mk('text', {x:cfg.axisX - cfg.tickLen - cfg.tickGap, y:py + cfg.tickSize*.33, 'font-size':cfg.tickSize, 'text-anchor':'end'}, g, v);
    
    
  });
}

drawBars({parent:'panelD', genes:gataGenes, wild:gataWild, wildErr:gataWildErr, mut:gataMut, mutErr:gataMutErr, stars:gataStars, ticks:gataTicks,
  segs:[{lo:0,hi:4,yLo:2358.7,yHi:1950.5},{lo:5,hi:15,yLo:1902.6,yHi:1725.4}],
  start:254.5, step:87.6, barW:33.5, sw:3, cap:17, axisX:203, axisW:4.5, tickLen:19, tickGap:9, tickSize:48,
  baseL:184, baseR:836, baseY:2358.7, labelDx:10, labelY:2403, labelSize:50, starGap:26, starStep:30, starSize:44,
  slashDx:15, slashDy:15, slashOff:[13,-12]});

drawBars({parent:'panelE', genes:cryGenes, wild:cryWild, wildErr:cryWildErr, mut:cryMut, mutErr:cryMutErr, stars:cryStars, ticks:cryTicks,
  segs:[{lo:0,hi:100,yLo:2365,yHi:2185.5},{lo:100,hi:1000,yLo:2136.9,yHi:1959.7},{lo:1000,hi:12000,yLo:1911.8,yHi:1731.3}],
  start:1174, step:72.9, barW:27.7, sw:2.5, cap:15, axisX:1132.8, axisW:4.5, tickLen:21, tickGap:6, tickSize:43,
  baseL:1112, baseR:2386, baseY:2364, labelDx:14, labelY:2407, labelSize:48, starGap:17, starStep:22, starSize:33,
  slashDx:16, slashDy:15, slashOff:[0,0]});

drawBars({parent:'panelF', genes:visGenes, wild:visWild, wildErr:visWildErr, mut:visMut, mutErr:visMutErr, stars:visStars, ticks:visTicks,
  segs:[{lo:0,hi:5,yLo:2362,yHi:2184},{lo:5,hi:50,yLo:2136.9,yHi:1958.4},{lo:50,hi:400,yLo:1909.8,yHi:1730}],
  start:2685.2, step:73.2, barW:28.7, sw:2.5, cap:15, axisX:2628.6, axisW:4.5, tickLen:21, tickGap:5, tickSize:43,
  baseL:2607.5, baseR:3680.6, baseY:2362, labelDx:12, labelY:2407, labelSize:50, starGap:17, starStep:22, starSize:35,
  slashDx:14, slashDy:15, slashOff:[0,0]});
</script>
</body>
</html>
